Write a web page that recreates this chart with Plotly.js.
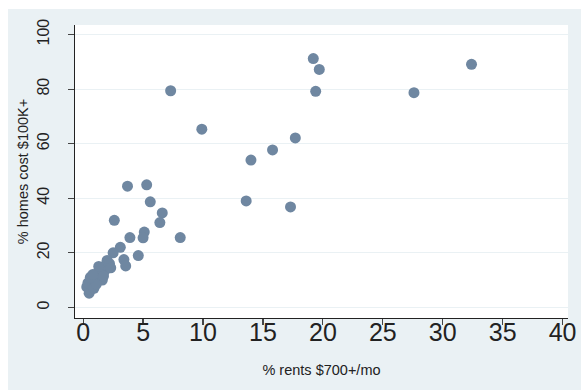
<!DOCTYPE html>
<html>
<head>
<meta charset="utf-8">
<script src="https://cdn.plot.ly/plotly-3.0.1.min.js"></script>
<style>
html,body{margin:0;padding:0;background:#ffffff;}
#chart{position:absolute;left:8px;top:9px;width:573px;height:381px;}
</style>
</head>
<body>
<div id="chart"></div>
<script>
// % rents $700+/mo
var rent700 = [32.4, 19.2, 19.7, 19.4, 27.6, 7.3, 9.9,
  17.7, 15.8, 14.0, 13.6, 17.3,
  3.7, 5.3, 5.6, 6.6, 6.4, 2.6, 8.1, 3.9, 5.1, 5.0,
  3.1, 4.6, 2.5, 3.4, 3.55, 2.0,
  0.3, 0.5, 0.6, 0.4, 0.7, 0.8, 1.0, 1.0, 1.2, 1.3, 1.4, 1.5, 1.6, 1.8, 1.9, 0.9, 1.1, 0.6, 1.7, 2.2, 1.3, 0.8, 2.3];
// % homes cost $100K+
var propval100 = [89.1, 91.2, 87.2, 79.2, 78.7, 79.4, 65.3,
  62.1, 57.7, 54.0, 39.0, 36.8,
  44.4, 44.9, 38.7, 34.6, 31.1, 31.9, 25.6, 25.6, 27.6, 25.5,
  22.0, 19.0, 20.0, 17.5, 15.2, 17.2,
  7.5, 5.2, 6.5, 9.0, 10.5, 8.0, 11.5, 9.0, 12.5, 10.0, 14.5, 12.0, 10.0, 13.5, 15.5, 7.0, 8.5, 11.0, 11.5, 16.0, 15.0, 12.0, 14.5];
var xTicks = [0, 5, 10, 15, 20, 25, 30, 35, 40];
var yTicks = [0, 20, 40, 60, 80, 100];

var trace = {
  x: rent700, y: propval100, type: 'scatter', mode: 'markers',
  marker: {size: 11, color: '#6f87a1', line: {width: 0}},
  hoverinfo: 'x+y'
};
var layout = {
  width: 573, height: 381,
  paper_bgcolor: '#eaf1f4', plot_bgcolor: '#ffffff',
  margin: {l: 67, r: 13, t: 16, b: 72},
  showlegend: false,
  font: {family: 'Liberation Sans, Arial, sans-serif', color: '#222'},
  xaxis: {
    range: [-0.68, 40.45], tickvals: xTicks, ticktext: xTicks.map(String),
    showgrid: false, zeroline: false, showline: true, linecolor: '#222', linewidth: 1.2,
    ticks: 'outside', ticklen: 6, tickcolor: '#444', tickwidth: 1.2,
    tickfont: {size: 25, color: '#222'}, ticklabelstandoff: -14,
    title: {text: '% rents $700+/mo', font: {size: 14.5, color: '#222'}, standoff: 19}
  },
  yaxis: {
    range: [-3.9, 103.5], tickvals: yTicks, ticktext: yTicks.map(String),
    showgrid: true, gridcolor: '#eaf1f4', gridwidth: 1, zeroline: false,
    showline: true, linecolor: '#222', linewidth: 1.2,
    ticks: 'outside', ticklen: 6, tickcolor: '#444', tickwidth: 1.2,
    tickangle: -90, tickfont: {size: 16, color: '#222'}, ticklabelstandoff: 12,
    title: {text: '% homes cost $100K+', font: {size: 14.5, color: '#222'}, standoff: 3}
  }
};
Plotly.newPlot('chart', [trace], layout, {displayModeBar: false, staticPlot: true});
</script>
</body>
</html>
